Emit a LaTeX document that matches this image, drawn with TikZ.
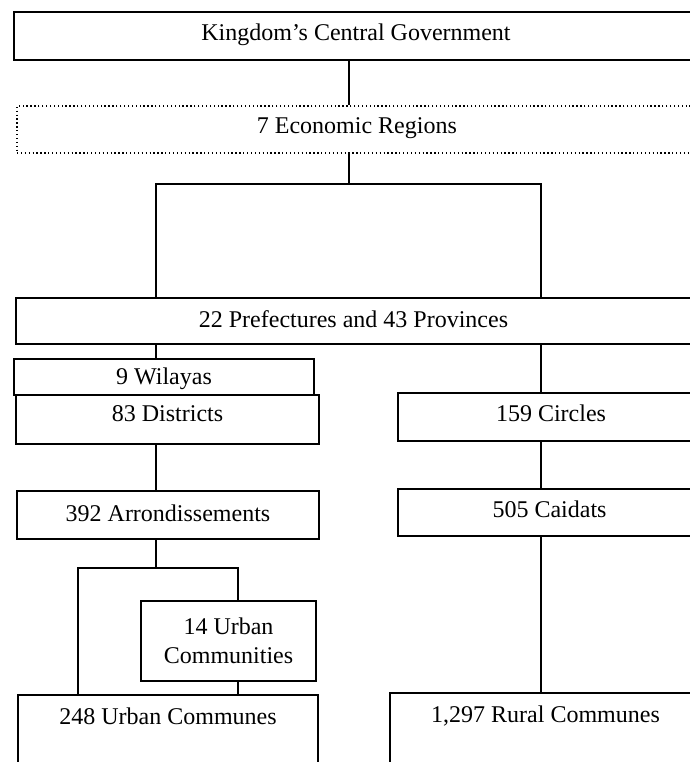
\documentclass[tikz,border=0pt]{standalone}
\usepackage{fontspec}
\setmainfont{Liberation Serif}
\begin{document}
\begin{tikzpicture}[x=1pt,y=-1pt]
\tikzset{
  box/.style={draw, line width=2pt, inner sep=0pt, anchor=north west,
    font=\fontsize{24}{29}\selectfont},
  dotbox/.style={box, line width=1.8pt, dash pattern=on 1.3pt off 2.6pt},
  link/.style={line width=2.8pt},
}
\useasboundingbox (0,0) rectangle (689,762);
% boxes
\node[box, minimum width=684pt, text height=29pt, text depth=19pt] (K) at (13,11) {Kingdom's Central Government};
\node[dotbox, minimum width=680pt, text height=28pt, text depth=19pt] (E) at (16,105) {7 Economic Regions};
\node[box, minimum width=675pt, text height=29pt, text depth=17pt] (P) at (15,297) {22 Prefectures and 43 Provinces};
\node[box, minimum width=300pt, text height=25pt, text depth=11pt] (W) at (13,358) {9 Wilayas};
\node[box, minimum width=303pt, text height=26pt, text depth=23pt] (D) at (15,394) {83 Districts};
\node[box, minimum width=306pt, text height=28pt, text depth=20pt] (C) at (397,392) {159 Circles};
\node[box, minimum width=302pt, text height=30pt, text depth=18pt] (A) at (16,490) {392 Arrondissements};
\node[box, minimum width=303pt, text height=28pt, text depth=19pt] (Cd) at (397,488) {505 Caidats};
\node[box, minimum width=175pt, minimum height=80pt, align=center] (UC) at (140,600) {14 Urban\\Communities};
\node[box, minimum width=300pt, text height=29pt, text depth=77pt] (UCo) at (17,694) {248 Urban Communes};
\node[box, minimum width=311pt, text height=29pt, text depth=79pt] (R) at (389,692) {1,297 Rural Communes};
% helper coordinates
\coordinate (s1) at (349,0);
\coordinate (xL) at (156,0);
\coordinate (xR) at (541,0);
\coordinate (j1) at (349,184);
\coordinate (j2) at (156,568);
\coordinate (xa) at (78,0);
\coordinate (xb) at (238,0);
% connectors
\draw[link] (K.south -| s1) -- (E.north -| s1);
\draw[link] (E.south -| s1) -- (j1);
\draw[link] (P.north -| xL) |- (j1) -| (P.north -| xR);
\draw[link] (P.south -| xL) -- (W.north -| xL);
\draw[link] (P.south -| xR) -- (C.north -| xR);
\draw[link] (D.south -| xL) -- (A.north -| xL);
\draw[link] (C.south -| xR) -- (Cd.north -| xR);
\draw[link] (Cd.south -| xR) -- (R.north -| xR);
\draw[link] (A.south -| xL) -- (j2);
\draw[link] (UCo.north -| xa) |- (j2) -| (UC.north -| xb);
\draw[link] (UC.south -| xb) -- (UCo.north -| xb);
\end{tikzpicture}
\end{document}
